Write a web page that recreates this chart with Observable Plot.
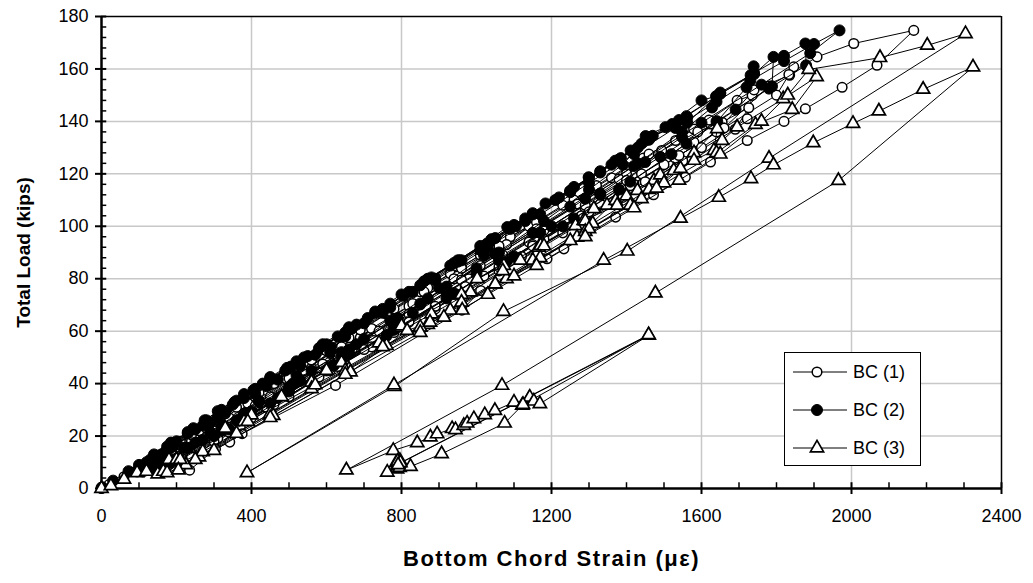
<!DOCTYPE html>
<html>
<head>
<meta charset="utf-8">
<script src="https://cdn.jsdelivr.net/npm/d3@7"></script>
<script src="https://cdn.jsdelivr.net/npm/@observablehq/plot@0.6"></script>
<style>
  body { margin: 0; background: #fff; }
  #wrap { position: relative; width: 1033px; height: 583px; }
</style>
</head>
<body>
<div id="wrap"></div>
<script>
// Axis ticks and labels
const xTicks = [0, 400, 800, 1200, 1600, 2000, 2400];
const yTicks = [0, 20, 40, 60, 80, 100, 120, 140, 160, 180];
const xTitle = "Bottom Chord Strain (\u03BC\u03B5)";
const yTitle = "Total Load (kips)";
const seriesNames = ["BC (1)", "BC (2)", "BC (3)"];

// BC (1): [strain, load]
const bc1 = [
[0,0],[20,1.5],[60,4.5],[90,6.5],
[130,10],[190,15.5],[250,21],[310,26],[370,31.5],[430,37],[490,42],[550,47.5],[610,53],[670,58.5],[700,61],
[640,54],[540,45],[440,36],[340,27],[240,18],[150,10],[110,7],
[140,11.5],[210,18],[290,25],[370,32],[450,39.5],[530,46.5],[610,53.5],[690,61],[770,68],[850,75],[930,82],[1010,89],[1090,96],[1150,101],
[1080,93],[950,81],[820,69.5],[690,57.5],[560,46],[430,34],[300,22.5],[180,12],[120,8],
[150,12.5],[240,20.5],[330,28.5],[420,36.5],[510,44.5],[600,52.5],[690,60.5],[780,68.5],[870,76.5],[960,84.5],[1050,92.5],[1140,100],[1230,108],[1320,115.5],[1400,122.5],[1445,126],
[1400,120],[1280,109],[1150,97.5],[1010,85],[870,72.5],[730,60],[590,47.5],[450,35],[320,23.5],[200,13],[130,8.5],
[160,13],[260,22],[360,31],[460,40],[560,49],[660,57.5],[760,66.5],[860,75],[960,84],[1060,92.5],[1160,101.5],[1260,110],[1360,118.5],[1460,127.5],[1579,137.1],[1624,139],
[1580,132],[1440,120],[1290,107],[1140,94],[980,80],[820,66.5],[670,53.5],[520,40.5],[380,28.5],[250,17],[150,9],
[170,13.5],[280,23],[390,32.5],[500,42],[610,51.5],[720,61],[830,70.5],[940,80],[1050,89.5],[1160,99],[1270,108.5],[1380,118],[1494,128.9],[1590,136],[1655,139.7],[1726,145.2],
[1690,137],[1550,125],[1390,111],[1230,97.5],[1060,83],[890,68.5],[720,54],[560,40.5],[400,27],[260,15.5],[180,9],
[190,12.5],[300,22],[410,31.5],[520,41],[630,50.5],[740,60],[850,70],[960,79.5],[1070,89],[1180,98.5],[1290,108],[1400,117.5],[1531,132.7],[1620,140.5],[1695,148],[1735,149.9],
[1722,141],[1600,130],[1450,117],[1290,103],[1120,88.5],[950,74],[780,59.5],[610,45],[450,31],[310,19],[211,8],
[220,11],[340,21.5],[460,32],[580,42.5],[700,53],[820,63.5],[940,74],[1060,84.5],[1180,95],[1300,105.5],[1420,116],[1530,126],[1640,136],[1740,152],[1835,157.6],[1846,160.8],
[1800,150],[1660,137.5],[1500,123.5],[1330,108.5],[1150,93],[970,77],[790,61.5],[610,46],[440,31],[300,18],[225,9.5],
[240,12],[370,23.5],[500,35],[630,46.5],[760,58],[890,69.5],[1020,81],[1150,92.5],[1280,104],[1410,115.5],[1540,127],[1660,137.5],[1780,153.5],[1833,157.9],[1908,164.6],[2006,169.7],[2166,174.7],
[2068,161.4],[1975,153],[1877,144.8],[1820,140],[1722,132.7],[1624,124.5],[1557,118.7],[1472,112],[1371,103.5],[1233,91.4],[1188,87.6],[1011,75.5],[961,68],[624,39.3],[375,20.9],[342,17.7],[304,15.1],[235,7]
];

// BC (2): [strain, load]
const bc2 = [
[0,0.3],[2,0.5],[31,3],[72,6.6],
[100,9],[140,13],[185,17.5],[230,21.5],[275,26],[320,30],[360,33.5],[405,37.5],[450,42],[495,46],[540,50],[585,54],[630,58],[668,61],
[610,52],[520,43],[420,33.5],[320,24.5],[220,15.5],[130,8],[95,6.5],
[120,10],[175,16],[245,23],[310,29.5],[380,36],[450,42.5],[520,48.5],[590,55],[660,61.5],[730,67.5],[800,74],[870,80],[940,86],[1010,92.5],[1082,99.7],[1100,100.5],
[1020,89],[900,76.5],[770,64],[640,52],[510,40],[380,28.5],[250,17.5],[140,9],[100,7],
[130,11],[200,18],[280,26],[355,33],[430,40],[505,46.5],[580,53.5],[655,60],[730,67],[805,73.5],[880,80.5],[955,87],[1028,93.4],[1105,100],[1184,108.7],[1250,113.5],[1299,118.7],[1385,126],[1430,130],
[1390,123.5],[1300,114],[1180,102],[1050,89.5],[920,77],[790,65],[660,53],[530,41],[400,29.5],[270,18.5],[150,9],[105,7],
[140,12],[230,21],[320,29.5],[410,38],[500,46],[590,54.5],[680,62.5],[770,70.5],[860,79],[950,87],[1040,95],[1130,103],[1220,111],[1300,118.5],[1380,125.5],[1451,134.4],[1522,139],[1562,141.5],
[1548,134],[1450,124.5],[1330,112.5],[1200,100],[1060,87],[920,74.5],[780,62],[640,50],[500,38],[360,26],[230,15.5],[130,8],[110,6.5],
[150,12.5],[250,22.5],[350,32],[450,41.5],[550,50.5],[650,59.5],[750,68.5],[850,77.5],[950,86.5],[1050,95.5],[1150,104.5],[1250,113.5],[1330,120.5],[1411,128.9],[1504,137.8],[1600,148],[1639,149.6],
[1628,145.3],[1548,136],[1420,123],[1290,110.5],[1150,97.5],[1000,84],[850,70.5],[700,57],[560,45],[420,33],[290,21.5],[170,11],[115,7],
[160,13],[270,24],[380,34.5],[490,45],[600,55],[710,65],[820,75],[930,85],[1040,95],[1150,105],[1260,115],[1370,125],[1470,134.5],[1562,139.5],[1650,151],[1731,157.6],[1739,161],
[1720,153],[1642,140],[1520,127.5],[1380,114],[1230,100],[1080,86.5],[920,72.5],[760,58.5],[600,45],[450,32.5],[300,20],[170,9.5],[120,7],
[170,14],[290,25],[410,36],[530,47],[650,58],[770,69],[890,80],[1010,91],[1130,102],[1250,113],[1360,123.5],[1460,133],[1560,142],[1650,150.5],[1740,158],[1792,164.6],
[1788,153.4],[1691,144.5],[1560,131.5],[1410,117],[1260,103],[1100,88.5],[940,74.5],[780,60.5],[620,47],[470,34.5],[320,22.5],[180,11],[125,7.5],
[180,15],[310,27],[440,39],[570,51],[700,63],[830,75],[960,87],[1090,99],[1210,110],[1330,121],[1440,131.5],[1540,140.5],[1640,149.5],[1740,158.5],[1820,165],[1877,169.7],
[1879,161.4],[1780,152.5],[1640,140],[1490,126.5],[1330,112],[1170,97.5],[1000,82],[830,67],[660,51.5],[500,37],[340,22.5],[190,10.5],[130,7.5],
[190,16],[330,29],[470,41.5],[610,54],[750,67],[890,79.5],[1030,92],[1170,104.5],[1300,116.5],[1420,127.5],[1530,137.5],[1640,147.5],[1730,155.5],[1820,163],[1900,169.5],[1968,174.7],
[1890,166],[1760,154],[1600,139.5],[1430,124],[1250,107.5],[1060,90],[870,72.5],[680,55],[500,38.5],[320,22],[180,10],[140,7.5]
];

// BC (3): [strain, load]
const bc3 = [
[0,0],[25,1],[60,3.5],[95,6],[120,6.5],
[180,11],[330,23],[480,35],[640,48],[800,61.5],[1002,80],[1073,85],[1166,92],[1264,100.2],[1313,106.7],[1348,108],[1371,109.8],
[1268,95.8],[1080,80],[870,62.5],[660,45.5],[450,28],[260,12],[150,5.5],
[200,10.5],[380,25.5],[560,40.5],[740,55.5],[880,66.5],[984,74.9],[1117,87],[1171,92.7],[1286,102.2],[1375,108],[1429,113.6],[1473,117.4],[1526,121.3],
[1440,110.5],[1250,94.5],[1050,78],[850,61.5],[650,45],[450,28.5],[270,14],[165,6.5],
[200,11],[400,28],[600,45],[800,62],[960,74],[1070,83],[1180,92.5],[1290,102],[1400,111.5],[1490,119.5],[1580,128],[1642,137.2],
[1633,128.9],[1580,125.1],[1460,114],[1310,101],[1150,87],[960,71],[760,54.5],[560,38],[360,21],[225,9],[175,6],
[210,11],[390,25.5],[570,39.5],[750,54],[930,68],[1050,78],[1170,88],[1290,98],[1410,108],[1500,116.5],[1544,122],[1655,132.7],[1695,137.8],[1818,148.6],[1907,157],
[1842,144.5],[1744,138.8],[1640,128],[1480,114.5],[1300,99],[1100,81],[962,68],[913,65.3],[876,63.4],[815,60.2],[664,44.4],[458,27.8],[300,14.5],[205,7],
[250,11],[450,27],[650,43.5],[850,59.5],[1030,74],[1160,85],[1290,96],[1420,107],[1540,117.5],[1650,127.5],[1760,140],[1830,150],[1886,159.8],[2076,164.3],[2202,169],[2304,173.4],
[1780,125.9],[1402,90.5],[1072,67.5],[781,38.9],[388,6],
[780,39.5],[1339,87],[1544,103],[1646,111],[1732,118.1],[1792,123.4],[1898,131.8],[2004,139.2],[2073,143.9],[2191,152.2],[2324,160.7],
[1965,117.4],[1477,74.5],[1068,39.3],[653,7],
[778,14.5],[842,17.4],[877,19.6],[895,20.8],[935,22.8],[944,22.4],[966,24],[975,24.9],[993,26.6],[1022,28.1],[1049,29.7],[1100,32.9],[1122,31.7],[1140,34.2],[1142,34.8],[1153,33.3],[1169,32.3],[1459,58.4],
[793,9.4],[789,8.3],[786,9.8],[796,10.6],[788,7.4],[792,8.8],[795,8.0],[790,10.4],[762,6.2],[824,8.4],[907,13.2],[1075,24.9],[1124,32],[1459,58.6],[797,9.8],[791,9.0]
];

const X = d => d[0], Y = d => d[1];
const xMinor = d3.range(100, 2400, 100).filter(v => v % 400 !== 0);
const yMinor = d3.range(4, 180, 4).filter(v => v % 20 !== 0);
const font = "'Liberation Sans', Arial, Helvetica, sans-serif";
const rOpen = 4.8, rFilled = 5.5, rTri = 4.9;

const chart = Plot.plot({
  width: 1033,
  height: 583,
  marginLeft: 101,
  marginRight: 32,
  marginTop: 16,
  marginBottom: 95,
  style: {fontFamily: font, fontSize: "18px", color: "black", background: "white", overflow: "visible"},
  x: {domain: [0, 2400]},
  y: {domain: [0, 180]},
  marks: [
    Plot.ruleX(xTicks.filter(v => v > 0 && v < 2400), {stroke: "#c8c8c8", strokeWidth: 1.5}),
    Plot.ruleY(yTicks.filter(v => v > 0 && v < 180), {stroke: "#c8c8c8", strokeWidth: 1.5}),
    Plot.ruleY([180], {stroke: "black", strokeWidth: 1.5}),
    Plot.ruleX([2400], {stroke: "black", strokeWidth: 1.5}),
    Plot.ruleX([0], {stroke: "black", strokeWidth: 2.5}),
    Plot.ruleY([0], {stroke: "black", strokeWidth: 2.5}),
    Plot.ruleX(xMinor, {y1: 0, y2: 2.2, stroke: "black", strokeWidth: 1.5}),
    Plot.ruleX(xTicks, {y1: 0, y2: 2.2, stroke: "black", strokeWidth: 2}),
    Plot.ruleY(yMinor, {x1: 0, x2: 14, stroke: "black", strokeWidth: 1.5}),
    Plot.ruleY(yTicks, {x1: 0, x2: 14, stroke: "black", strokeWidth: 2}),
    Plot.axisX({ticks: xTicks, tickSize: 6, tickPadding: 15, strokeWidth: 2, label: null, tickFormat: d => String(d)}),
    Plot.axisY({ticks: yTicks, tickSize: 6, tickPadding: 7, strokeWidth: 2, label: null, tickFormat: d => String(d)}),
    Plot.line(bc1, {x: X, y: Y, stroke: "black", strokeWidth: 1}),
    Plot.dot(bc1, {x: X, y: Y, r: rOpen, symbol: "circle", fill: "white", stroke: "black", strokeWidth: 1.5}),
    Plot.line(bc2, {x: X, y: Y, stroke: "black", strokeWidth: 1}),
    Plot.dot(bc2, {x: X, y: Y, r: rFilled, symbol: "circle", fill: "black", stroke: "black", strokeWidth: 1}),
    Plot.line(bc3, {x: X, y: Y, stroke: "black", strokeWidth: 1}),
    Plot.dot(bc3, {x: X, y: Y, r: rTri, symbol: "triangle", fill: "white", stroke: "black", strokeWidth: 1.7}),
    Plot.text([xTitle], {text: d => d, frameAnchor: "bottom", dy: 77, fontWeight: "bold", fontSize: 22}),
    Plot.text([yTitle], {text: d => d, frameAnchor: "left", textAnchor: "middle", rotate: -90, dx: -78, fontWeight: "bold", fontSize: 19})
  ]
});

const wrap = document.getElementById("wrap");
wrap.appendChild(chart);
// letter spacing for the x title
d3.select(chart).selectAll("text").filter(function() { return this.textContent === xTitle; })
  .style("letter-spacing", "1.5px");

// Legend box inside the plot area
const leg = d3.create("svg")
  .attr("width", 137).attr("height", 114)
  .style("position", "absolute").style("left", "784px").style("top", "352px")
  .style("font-family", font);
leg.append("rect").attr("x", 0.5).attr("y", 0.5).attr("width", 136).attr("height", 113)
  .attr("fill", "white").attr("stroke", "black").attr("stroke-width", 1);
const triPath = d3.symbol(d3.symbolTriangle, Math.PI * rTri * rTri)();
seriesNames.forEach((name, i) => {
  const cy = 20 + 38 * i;
  const g = leg.append("g");
  g.append("line").attr("x1", 9).attr("x2", 63).attr("y1", cy).attr("y2", cy).attr("stroke", "black").attr("stroke-width", 1);
  if (i === 0) g.append("circle").attr("cx", 33).attr("cy", cy).attr("r", rOpen).attr("fill", "white").attr("stroke", "black").attr("stroke-width", 1.5);
  if (i === 1) g.append("circle").attr("cx", 33).attr("cy", cy).attr("r", rFilled).attr("fill", "black").attr("stroke", "black");
  if (i === 2) g.append("path").attr("d", triPath).attr("transform", `translate(33,${cy})`).attr("fill", "white").attr("stroke", "black").attr("stroke-width", 1.7);
  g.append("text").attr("x", 69).attr("y", cy).attr("dy", "0.36em").attr("font-size", 18).attr("fill", "black").text(name);
});
wrap.appendChild(leg.node());
</script>
</body>
</html>
